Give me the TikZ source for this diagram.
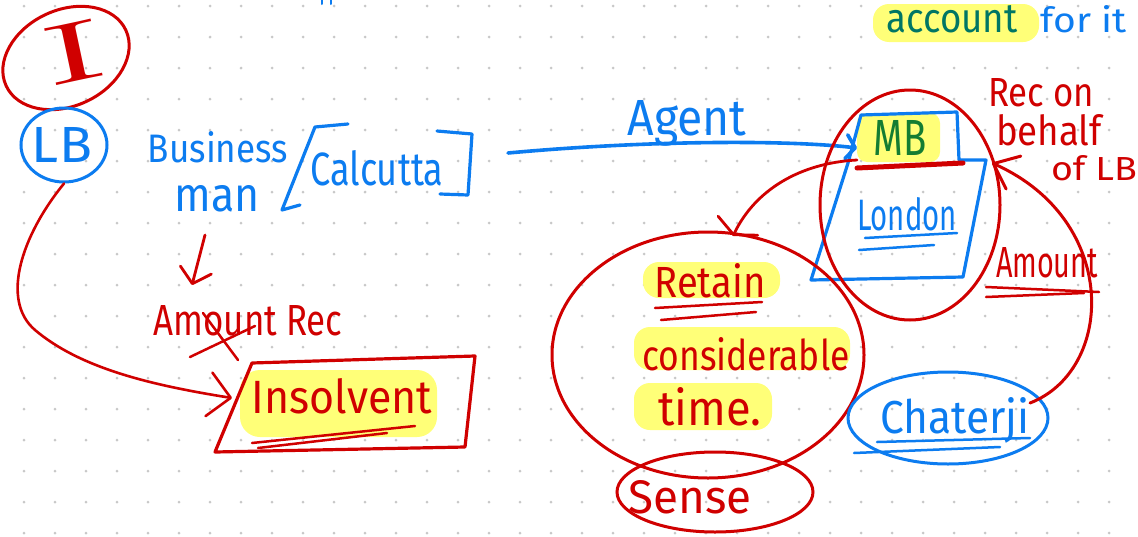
\documentclass[tikz,border=0pt]{standalone}
\usepackage{fontspec}
\usepackage{graphicx}
\setmainfont{Fira Sans}
\newfontfamily\serifhand{Latin Modern Roman}
\usetikzlibrary{shapes.geometric,arrows.meta}

\definecolor{inkred}{RGB}{208,0,0}
\definecolor{inkblue}{RGB}{12,124,240}
\definecolor{inkteal}{RGB}{0,118,100}
\definecolor{inkgreen}{RGB}{20,125,50}
\definecolor{hilite}{RGB}{255,255,120}
\definecolor{dotgray}{RGB}{200,200,200}

% handwritten word scaled to a given ink width and height (in px)
\newcommand{\hand}[3]{\resizebox{#1pt}{#2pt}{#3}}

\tikzset{
  pen/.style={line width=3.2pt, line cap=round, line join=round},
  redpen/.style={pen, draw=inkred},
  bluepen/.style={pen, draw=inkblue},
  hl/.style={fill=hilite, draw=none, rounded corners=16pt},
  word/.style={inner sep=0pt, anchor=base},
  redword/.style={word, text=inkred},
  blueword/.style={word, text=inkblue},
  ring/.style={ellipse, draw, line width=3pt, inner sep=0pt, fill=none},
  tipbarb/.style args={#1/#2}{-{Straight Barb[round, length=#1pt, width=#2pt]}}
}

\begin{document}
\begin{tikzpicture}[x=1pt,y=-1pt]
\fill[white] (0,0) rectangle (1138,536);
\useasboundingbox (0,0) rectangle (1138,536);

% dotted paper
\foreach \i in {0,...,35}{
  \foreach \j in {0,...,17}{
    \fill[dotgray] ({24+31*\i},{6+31*\j}) circle (1.5);
  }
}

% highlighter marks
\fill[hl] (873,4) rectangle (1039,42);
\fill[hl, rounded corners=10pt] (857,113) rectangle (940,162);
\fill[hl, rounded corners=20pt] (240,370) rectangle (437,437);
\fill[hl] (643,262) rectangle (780,298);
\fill[hl] (634,327) rectangle (850,370);
\fill[hl] (634,383) rectangle (772,430);

% tiny marks at the top edge
\draw[bluepen, line width=2pt] (322,0) -- (322,4);
\draw[bluepen, line width=2pt] (331,0) -- (331,4);

% ---------- left side ----------
\node[ring, draw=inkred, minimum width=132pt, minimum height=96pt, rotate=25] (Iring) at (66,58) {};
\node[redword, anchor=center, rotate=12] (Iletter) at (74,52) {\serifhand\hand{56}{58}{I}};

\node[ring, draw=inkblue, minimum width=86pt, minimum height=74pt] (LBring) at (64,145) {};
\node[blueword] (LB) at (62,162) {\hand{60}{35}{LB}};

\node[blueword] (business) at (218,162) {\hand{140}{31}{Business}};
\node[blueword] (man) at (217,211) {\hand{85}{26}{man}};
\node[blueword] (city) at (377,185) {\hand{133}{35}{Calcutta}};
\draw[bluepen] (348,124) -- (315,127) -- (282,210) -- (300,205);
\draw[bluepen] (437,131) -- (472,134) -- (468,195) -- (440,194);

\node[redword] (amtrec) at (248,335) {\hand{189}{30}{Amount Rec}};
\draw[redpen, line width=2.5pt] (190,357) -- (255,326);
\draw[redpen, line width=2.5pt] (203,313) -- (238,360);

\coordinate (downstart) at (205,235);
\coordinate (downend) at (192,285);
\draw[redpen, line width=2.8pt, tipbarb=14/32] (downstart) -- (downend);

% insolvent box
\coordinate (ib1) at (252,363);
\coordinate (ib2) at (475,356);
\coordinate (ib3) at (465,447);
\coordinate (ib4) at (215,452);
\draw[redpen] (ib1) -- (ib2) -- (ib3) -- (ib4) -- cycle;
\node[redword] (insolvent) at (342,413) {\hand{180}{35}{Insolvent}};
\draw[redpen, line width=2.5pt] (252,443) -- (415,426);
\draw[redpen, line width=2.5pt] (258,448) -- (387,433);
\coordinate (insL) at (232,398);

\draw[redpen, line width=2.6pt, tipbarb=22/44]
  (LBring.south) .. controls (22,235) and (0,300) .. (35,330)
  .. controls (80,368) and (150,385) .. (insL);

% ---------- right side ----------
\node[word, text=inkteal] (account) at (952,32) {\hand{131}{27}{account}};
\node[blueword] (forit) at (1084,32) {\hand{86}{27}{for it}};

\node[blueword] (agent) at (687,135) {\hand{119}{35}{Agent}};
\coordinate (agentstart) at (508,153);
\coordinate (mbleft) at (857,148);
\draw[bluepen, line width=3.6pt, tipbarb=9/24] (agentstart) .. controls (650,140) and (790,140) .. (mbleft);

% MB / London office
\draw[bluepen] (861,115) -- (957,112) -- (959,160) -- (986,160) -- (963,277) -- (811,280) -- (848,163) -- cycle;
\draw[inkred, line width=5pt, line cap=round] (857,168) -- (963,163);
\node[word, text=inkgreen] (MB) at (900,155) {\hand{53}{35}{MB}};
\node[blueword] (london) at (907,230) {\hand{100}{33}{London}};
\draw[bluepen, line width=2.5pt] (865,238) -- (957,233);
\draw[bluepen, line width=2.5pt] (859,250) -- (934,245);

\node[ring, draw=inkred, minimum width=180pt, minimum height=230pt] (mbring) at (910,205) {};

\node[redword] (recon) at (1041,106) {\hand{106}{28}{Rec on}};
\node[redword] (behalf) at (1049,145) {\hand{106}{31}{behalf}};
\node[redword] (oflb) at (1094,180) {\hand{86}{25}{of LB}};

\node[redword] (amount) at (1047,277) {\hand{102}{30}{Amount}};
\draw[redpen, line width=2.5pt] (986,287) -- (1099,292);
\draw[redpen, line width=2.5pt] (986,297) -- (1084,293);

% retain circle
\node[ring, draw=inkred, minimum width=312pt, minimum height=246pt] (retainring) at (708,355) {};
\node[redword] (retain) at (710,297) {\hand{111}{34}{Retain}};
\draw[redpen, line width=2.5pt] (655,308) -- (762,302);
\draw[redpen, line width=2.5pt] (661,320) -- (756,312);
\node[redword] (consid) at (746,370) {\hand{207}{33}{considerable}};
\node[redword] (time) at (710,425) {\hand{103}{38}{time.}};

\node[ring, draw=inkred, minimum width=196pt, minimum height=80pt] (sensering) at (715,492) {};
\node[redword] (sense) at (690,513) {\hand{123}{33}{Sense}};

% Chaterji
\node[ring, draw=inkblue, minimum width=200pt, minimum height=92pt] (chring) at (948,418) {};
\node[blueword] (chaterji) at (955,433) {\hand{149}{36}{Chaterji}};
\draw[bluepen, line width=2.5pt] (877,442) -- (1030,438);
\draw[bluepen, line width=2.5pt] (854,453) -- (1000,447);

% connectors on the right
\coordinate (mbfoot) at (857,160);
\coordinate (retaintop) at (733,236);
\draw[redpen, line width=2.8pt, tipbarb=10/44] (mbfoot) .. controls (800,163) and (755,190) .. (retaintop);

\coordinate (chtail) at (1030,403);
\coordinate (rectip) at (992,163);
\draw[redpen, line width=3pt, tipbarb=22/36] (chtail) .. controls (1115,370) and (1120,220) .. (rectip);

\end{tikzpicture}
\end{document}
